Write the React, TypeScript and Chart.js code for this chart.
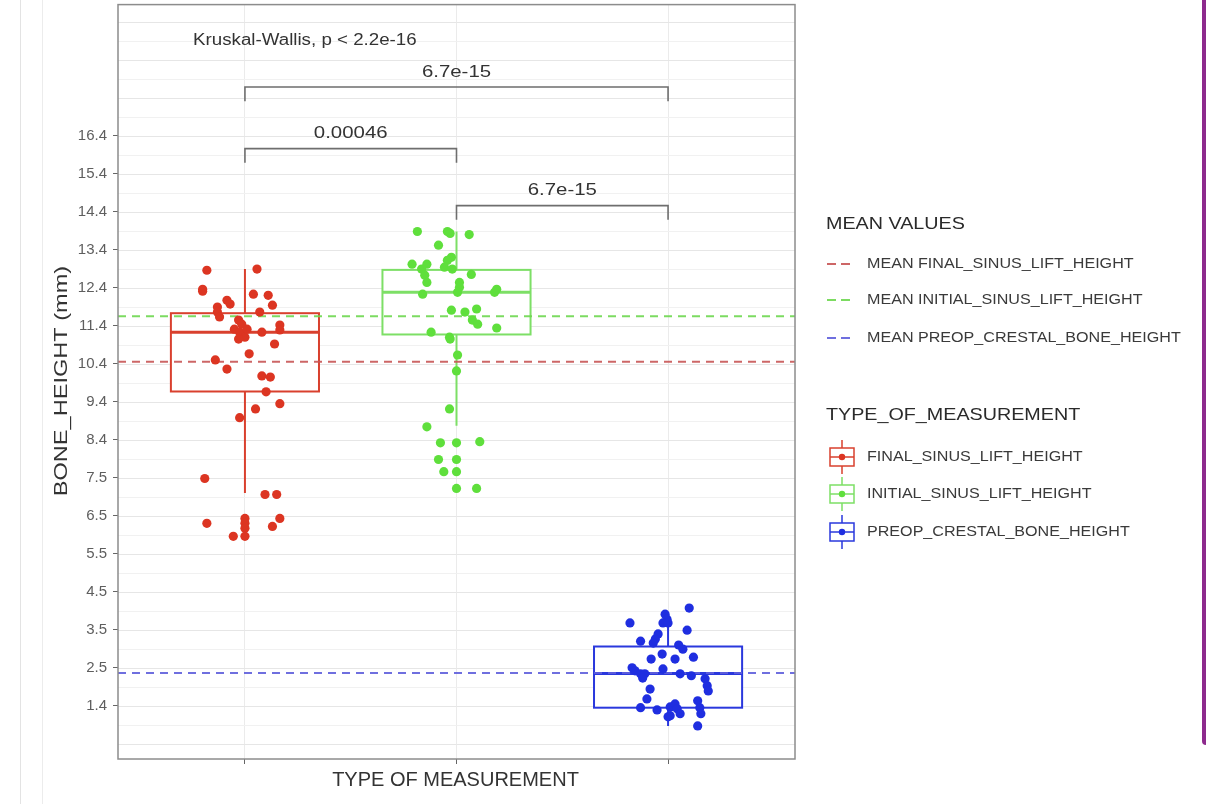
import React, { useEffect, useRef } from "react";
import { Chart, registerables } from "chart.js";
Chart.register(...registerables);

// ---------- data ----------
const groupNames = ["FINAL_SINUS_LIFT_HEIGHT", "INITIAL_SINUS_LIFT_HEIGHT", "PREOP_CRESTAL_BONE_HEIGHT"];
const meanNames = ["MEAN FINAL_SINUS_LIFT_HEIGHT", "MEAN INITIAL_SINUS_LIFT_HEIGHT", "MEAN PREOP_CRESTAL_BONE_HEIGHT"];
const groupColors = ["#dc3522", "#5fdf3c", "#1f2ee0"];
const boxColors = ["#d9402e", "#7ddf66", "#2a38dd"];
const meanColors = ["rgba(200,85,85,0.9)", "rgba(110,215,80,0.9)", "rgba(95,95,220,0.9)"];

const meanValues = [10.45, 11.65, 2.26];

const yTickValues = [1.4, 2.4, 3.4, 4.4, 5.4, 6.4, 7.4, 8.4, 9.4, 10.4, 11.4, 12.4, 13.4, 14.4, 15.4, 16.4];
const yTickLabels = ["1.4", "2.5", "3.5", "4.5", "5.5", "6.5", "7.5", "8.4", "9.4", "10.4", "11.4", "12.4", "13.4", "14.4", "15.4", "16.4"];

const boxQ1 = [9.67, 11.17, 1.35];
const boxMedian = [11.23, 12.28, 2.25];
const boxQ3 = [11.73, 12.87, 2.96];
const whiskerLow = [7.0, 8.77, 0.87];
const whiskerHigh = [12.89, 13.88, 3.81];

const finalY = [12.86, 12.89, 12.36, 12.31, 12.23, 12.2, 11.94, 12.07, 11.97, 11.89, 11.76, 11.63, 11.76, 11.55, 11.44, 11.42, 11.31, 11.23, 11.1, 11.05, 11.31, 11.23, 11.29, 10.92, 10.66, 10.5, 10.26, 10.08, 10.05, 9.66, 9.35, 9.21, 8.98, 7.38, 6.96, 6.96, 6.2, 6.33, 6.2, 6.07, 5.86, 6.33, 6.12, 5.86];
const finalJitter = [-0.18, 0.057, -0.2, -0.2, 0.04, 0.11, 0.13, -0.085, -0.07, -0.13, -0.13, -0.12, 0.07, -0.03, -0.015, 0.165, -0.05, -0.025, 0, -0.03, 0.01, 0.08, 0.165, 0.14, 0.02, -0.14, -0.085, 0.08, 0.12, 0.1, 0.165, 0.05, -0.025, -0.19, 0.095, 0.15, -0.18, 0, 0, 0, 0, 0.165, 0.13, -0.055];

const initialY = [13.88, 13.88, 13.83, 13.8, 13.52, 13.2, 13.12, 13.02, 13.02, 12.89, 12.94, 12.89, 12.75, 12.73, 12.54, 12.54, 12.41, 12.23, 12.28, 12.28, 12.36, 11.81, 11.76, 11.84, 11.55, 11.44, 11.34, 11.23, 11.1, 11.05, 10.63, 10.21, 9.21, 8.74, 8.32, 8.32, 8.35, 7.88, 7.88, 7.56, 7.56, 7.12, 7.12];
const initialJitter = [-0.185, -0.043, -0.03, 0.06, -0.085, -0.024, -0.043, -0.21, -0.14, -0.165, -0.057, -0.02, 0.07, -0.15, -0.14, 0.014, 0.014, -0.16, 0.005, 0.18, 0.19, -0.024, 0.04, 0.095, 0.075, 0.1, 0.19, -0.12, -0.033, -0.03, 0.005, 0, -0.033, -0.14, -0.076, 0, 0.11, -0.085, 0, -0.06, 0, 0, 0.095];

const preopY = [3.97, 3.58, 3.81, 3.68, 3.58, 3.58, 3.39, 3.1, 3.29, 3.16, 3.05, 3.0, 2.89, 2.76, 2.63, 2.63, 2.68, 2.4, 2.32, 2.24, 2.24, 2.37, 2.24, 2.19, 2.11, 1.93, 1.79, 2.13, 1.84, 1.58, 1.35, 1.29, 1.37, 1.45, 1.32, 1.19, 1.11, 1.14, 1.53, 1.35, 1.19, 0.87];
const preopJitter = [0.1, -0.18, -0.014, -0.005, -0.024, 0, 0.09, -0.13, -0.047, -0.06, -0.07, 0.05, 0.07, -0.028, -0.08, 0.033, 0.12, -0.17, -0.156, -0.13, -0.11, -0.024, 0.057, 0.11, 0.175, 0.185, 0.19, -0.12, -0.085, -0.1, -0.13, -0.052, 0.01, 0.033, 0.043, 0.057, 0, 0.01, 0.14, 0.15, 0.155, 0.14];

const bracketFrom = [1, 1, 2];
const bracketTo = [3, 2, 3];
const bracketY = [17.68, 16.06, 14.56];
const bracketLabels = ["6.7e-15", "0.00046", "6.7e-15"];
const testLabel = "Kruskal-Wallis, p < 2.2e-16";
const testX = 0.755;
const testY = 18.89;

const xTitle = "TYPE OF MEASUREMENT";
const yTitle = "BONE_HEIGHT (mm)";
const meanLegendTitle = "MEAN VALUES";
const groupLegendTitle = "TYPE_OF_MEASUREMENT";

const FONT = '"Liberation Sans", Arial, Helvetica, sans-serif';

function drawText(ctx: CanvasRenderingContext2D, s: string, x: number, y: number, size: number, color: string, align: CanvasTextAlign, sx = 1, rot = 0) {
  ctx.save();
  ctx.translate(x, y);
  if (rot) ctx.rotate(rot);
  ctx.scale(sx, 1);
  ctx.font = `${size}px ${FONT}`;
  ctx.fillStyle = color;
  ctx.textAlign = align;
  ctx.textBaseline = "middle";
  ctx.fillText(s, 0, 0);
  ctx.restore();
}

const decorPlugin = {
  id: "decor",
  beforeDatasetsDraw(chart: any) {
    const ctx: CanvasRenderingContext2D = chart.ctx;
    const xs = chart.scales.x;
    const ys = chart.scales.y;
    const a = chart.chartArea;
    ctx.save();
    // horizontal grid (major + minor)
    for (let k = 0; k < 40; k++) {
      const v = 0.4 + k * 0.5;
      if (v > ys.max) break;
      const py = Math.round(ys.getPixelForValue(v)) + 0.5;
      ctx.strokeStyle = k % 2 === 0 ? "#e6e6e6" : "#f1f1f1";
      ctx.lineWidth = 1;
      ctx.beginPath();
      ctx.moveTo(a.left, py);
      ctx.lineTo(a.right, py);
      ctx.stroke();
    }
    // boxes
    for (let i = 0; i < 3; i++) {
      const c = i + 1;
      const xl = xs.getPixelForValue(c - 0.35);
      const xr = xs.getPixelForValue(c + 0.35);
      const xc = xs.getPixelForValue(c);
      const yq1 = ys.getPixelForValue(boxQ1[i]);
      const yq3 = ys.getPixelForValue(boxQ3[i]);
      const ym = ys.getPixelForValue(boxMedian[i]);
      const ylo = ys.getPixelForValue(whiskerLow[i]);
      const yhi = ys.getPixelForValue(whiskerHigh[i]);
      ctx.strokeStyle = boxColors[i];
      ctx.lineWidth = 2;
      ctx.beginPath();
      ctx.moveTo(xc, yq3);
      ctx.lineTo(xc, yhi);
      ctx.moveTo(xc, yq1);
      ctx.lineTo(xc, ylo);
      ctx.stroke();
      ctx.fillStyle = "#ffffff";
      ctx.fillRect(xl, yq3, xr - xl, yq1 - yq3);
      ctx.strokeRect(xl, yq3, xr - xl, yq1 - yq3);
      ctx.lineWidth = 3;
      ctx.beginPath();
      ctx.moveTo(xl, ym);
      ctx.lineTo(xr, ym);
      ctx.stroke();
    }
    ctx.restore();
  },
  afterDatasetsDraw(chart: any) {
    const ctx: CanvasRenderingContext2D = chart.ctx;
    const xs = chart.scales.x;
    const ys = chart.scales.y;
    const a = chart.chartArea;
    ctx.save();
    // panel border
    ctx.strokeStyle = "#8c8c8c";
    ctx.lineWidth = 1.5;
    ctx.strokeRect(a.left, a.top, a.right - a.left, a.bottom - a.top);

    // brackets
    ctx.strokeStyle = "#6e6e6e";
    ctx.lineWidth = 1.6;
    for (let i = 0; i < bracketFrom.length; i++) {
      const x1 = xs.getPixelForValue(bracketFrom[i]);
      const x2 = xs.getPixelForValue(bracketTo[i]);
      const y = ys.getPixelForValue(bracketY[i]);
      const drop = ys.getPixelForValue(bracketY[i] - 0.37);
      ctx.beginPath();
      ctx.moveTo(x1, drop);
      ctx.lineTo(x1, y);
      ctx.lineTo(x2, y);
      ctx.lineTo(x2, drop);
      ctx.stroke();
      drawText(ctx, bracketLabels[i], (x1 + x2) / 2, y - 15, 17, "#333", "center", 1.2);
    }
    drawText(ctx, testLabel, xs.getPixelForValue(testX), ys.getPixelForValue(testY), 16, "#333", "left", 1.17);

    // axis titles
    drawText(ctx, xTitle, (a.left + a.right) / 2 - 1, 780, 20, "#333", "center", 1);
    drawText(ctx, yTitle, 62, 381, 19, "#333", "center", 1.24, -Math.PI / 2);

    // legend: mean values
    drawText(ctx, meanLegendTitle, 826, 224, 17, "#2a2a2a", "left", 1.16);
    const meanRows = [264, 300, 338];
    for (let i = 0; i < 3; i++) {
      ctx.strokeStyle = meanColors[i];
      ctx.lineWidth = 2;
      ctx.setLineDash([9, 5]);
      ctx.beginPath();
      ctx.moveTo(827, meanRows[i]);
      ctx.lineTo(853, meanRows[i]);
      ctx.stroke();
      ctx.setLineDash([]);
      drawText(ctx, meanNames[i], 867, meanRows[i], 14, "#3a3a3a", "left", 1.15);
    }
    // legend: groups
    drawText(ctx, groupLegendTitle, 826, 415, 17, "#2a2a2a", "left", 1.16);
    const grpRows = [457, 494, 532];
    for (let i = 0; i < 3; i++) {
      const cy = grpRows[i];
      ctx.strokeStyle = boxColors[i];
      ctx.lineWidth = 1.5;
      ctx.beginPath();
      ctx.moveTo(842, cy - 17);
      ctx.lineTo(842, cy - 9);
      ctx.moveTo(842, cy + 9);
      ctx.lineTo(842, cy + 17);
      ctx.stroke();
      ctx.fillStyle = "#fff";
      ctx.fillRect(830, cy - 9, 24, 18);
      ctx.strokeRect(830, cy - 9, 24, 18);
      ctx.beginPath();
      ctx.moveTo(830, cy);
      ctx.lineTo(854, cy);
      ctx.stroke();
      ctx.fillStyle = groupColors[i];
      ctx.beginPath();
      ctx.arc(842, cy, 3.2, 0, Math.PI * 2);
      ctx.fill();
      drawText(ctx, groupNames[i], 867, cy, 14, "#3a3a3a", "left", 1.15);
    }
    ctx.restore();
  },
};

export default function App() {
  const ref = useRef<HTMLCanvasElement | null>(null);
  useEffect(() => {
    if (!ref.current) return;
    const pointSets = [
      { y: finalY, j: finalJitter },
      { y: initialY, j: initialJitter },
      { y: preopY, j: preopJitter },
    ];
    const datasets: any[] = [];
    pointSets.forEach((s, i) => {
      datasets.push({
        label: groupNames[i],
        data: s.y.map((v, k) => ({ x: i + 1 + s.j[k], y: v })),
        backgroundColor: groupColors[i],
        borderWidth: 0,
        pointRadius: 4.6,
        order: 0,
      });
    });
    meanValues.forEach((m, i) => {
      datasets.push({
        label: meanNames[i],
        data: [{ x: 0.4, y: m }, { x: 3.6, y: m }],
        showLine: true,
        borderColor: meanColors[i],
        borderWidth: 2,
        borderDash: [8, 6],
        pointRadius: 0,
        order: 1,
      });
    });
    const chart = new Chart(ref.current, {
      type: "scatter",
      data: { datasets },
      options: {
        animation: false,
        responsive: false,
        devicePixelRatio: 1,
        layout: { padding: { left: 0, right: 413, top: 2, bottom: 0 } },
        plugins: { legend: { display: false }, tooltip: { enabled: false } },
        scales: {
          x: {
            type: "linear",
            min: 0.4,
            max: 3.6,
            afterBuildTicks: (s: any) => {
              s.ticks = [1, 2, 3].map((v) => ({ value: v }));
            },
            afterFit: (s: any) => {
              s.height = 45;
              s.paddingLeft = 0;
              s.paddingRight = 0;
            },
            ticks: { callback: () => "", padding: 0 },
            grid: { color: "#ebebeb", lineWidth: 1, tickColor: "#666", tickLength: 5 },
            border: { display: false },
          },
          y: {
            type: "linear",
            min: 0,
            max: 19.85,
            afterBuildTicks: (s: any) => {
              s.ticks = yTickValues.map((v) => ({ value: v }));
            },
            afterFit: (s: any) => {
              s.width = 118;
              s.paddingTop = 0;
              s.paddingBottom = 0;
            },
            ticks: {
              callback: (v: any) => {
                const idx = yTickValues.findIndex((t) => Math.abs(t - Number(v)) < 1e-6);
                return idx >= 0 ? yTickLabels[idx] : "";
              },
              font: { family: FONT, size: 15 },
              color: "#5e5e5e",
              padding: 6,
            },
            grid: { drawOnChartArea: false, tickColor: "#666", tickLength: 5 },
            border: { display: false },
          },
        },
      },
      plugins: [decorPlugin],
    });
    return () => chart.destroy();
  }, []);
  return (
    <div style={{ position: "fixed", left: 0, top: 0, width: 1208, height: 804, background: "#fff", overflow: "hidden" }}>
      <div style={{ position: "absolute", left: 20, top: 0, width: 1, height: 804, background: "#e3e3e3" }} />
      <div style={{ position: "absolute", left: 42, top: 0, width: 1, height: 804, background: "#ececec" }} />
      <canvas ref={ref} width={1208} height={804} style={{ position: "absolute", left: 0, top: 0, width: 1208, height: 804 }} />
      <div style={{ position: "absolute", left: 1202, top: 0, width: 4, height: 745, background: "#8d2a8d", borderBottomLeftRadius: 4 }} />
    </div>
  );
}
